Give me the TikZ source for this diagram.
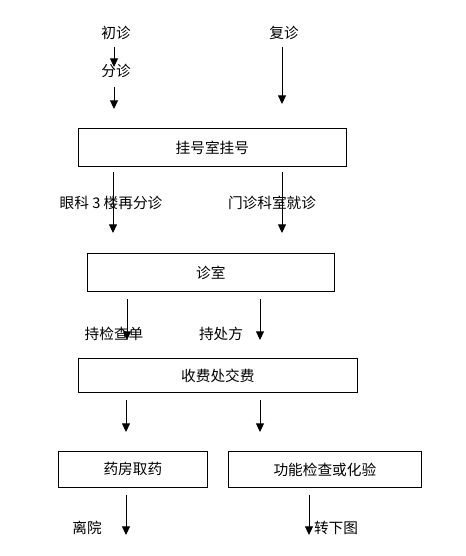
\documentclass[tikz,border=0pt]{standalone}
\usepackage{fontspec}
\setmainfont{Noto Sans CJK SC}
\usetikzlibrary{arrows.meta}
\begin{document}
\begin{tikzpicture}[x=0.75pt,y=-0.75pt,
  every node/.style={font=\fontsize{11}{13}\selectfont, inner sep=0pt},
  box/.style={draw, line width=0.6pt, anchor=north west},
  arr/.style={line width=0.7pt, -{Triangle[width=6pt,length=6.5pt]}}]
\useasboundingbox (0,0) rectangle (466,556);
% texts
\node (chu) at (116,33) {初诊};
\node (fu) at (284,33) {复诊};
\node (fen) at (116,71) {分诊};
\node (l1) at (111,203) {眼科 3 楼再分诊};
\node (l2) at (272,203) {门诊科室就诊};
\node (l3) at (114,334) {持检查单};
\node (l4) at (221,334) {持处方};
\node (l5) at (87,528) {离院};
\node (l6) at (336,528) {转下图};
% boxes
\node[box, minimum width=268*0.75pt, minimum height=38*0.75pt] (gh) at (78,128) {};
\node at (gh.center) {挂号室挂号};
\node[box, minimum width=247*0.75pt, minimum height=38*0.75pt] (zs) at (87,253) {};
\node at (zs.center) {诊室};
\node[box, minimum width=279*0.75pt, minimum height=34*0.75pt] (sf) at (78,358) {};
\node at (sf.center) {收费处交费};
\node[box, minimum width=149*0.75pt, minimum height=36*0.75pt] (yf) at (58,451) {};
\node at (yf.center) {药房取药};
\node[box, minimum width=193*0.75pt, minimum height=36*0.75pt] (gn) at (228,451) {};
\node at (gn.center) {功能检查或化验};
% arrow end coordinates
\coordinate (a1s) at (114,47); \coordinate (a1e) at (114,67);
\coordinate (a2s) at (114,87); \coordinate (a2e) at (114,109);
\coordinate (a3s) at (282,47); \coordinate (a3e) at (282,104);
\coordinate (a4s) at (113,172); \coordinate (a4e) at (113,233);
\coordinate (a5s) at (282,172); \coordinate (a5e) at (282,233);
\coordinate (a6s) at (127,299); \coordinate (a6e) at (127,340);
\coordinate (a7s) at (260,299); \coordinate (a7e) at (260,340);
\coordinate (a8s) at (126,400); \coordinate (a8e) at (126,432);
\coordinate (a9s) at (260,400); \coordinate (a9e) at (260,432);
\coordinate (a10s) at (126,495); \coordinate (a10e) at (126,535);
\coordinate (a11s) at (309,495); \coordinate (a11e) at (309,535);
\foreach \i in {1,...,11} \draw[arr] (a\i s) -- (a\i e);
\end{tikzpicture}
\end{document}
